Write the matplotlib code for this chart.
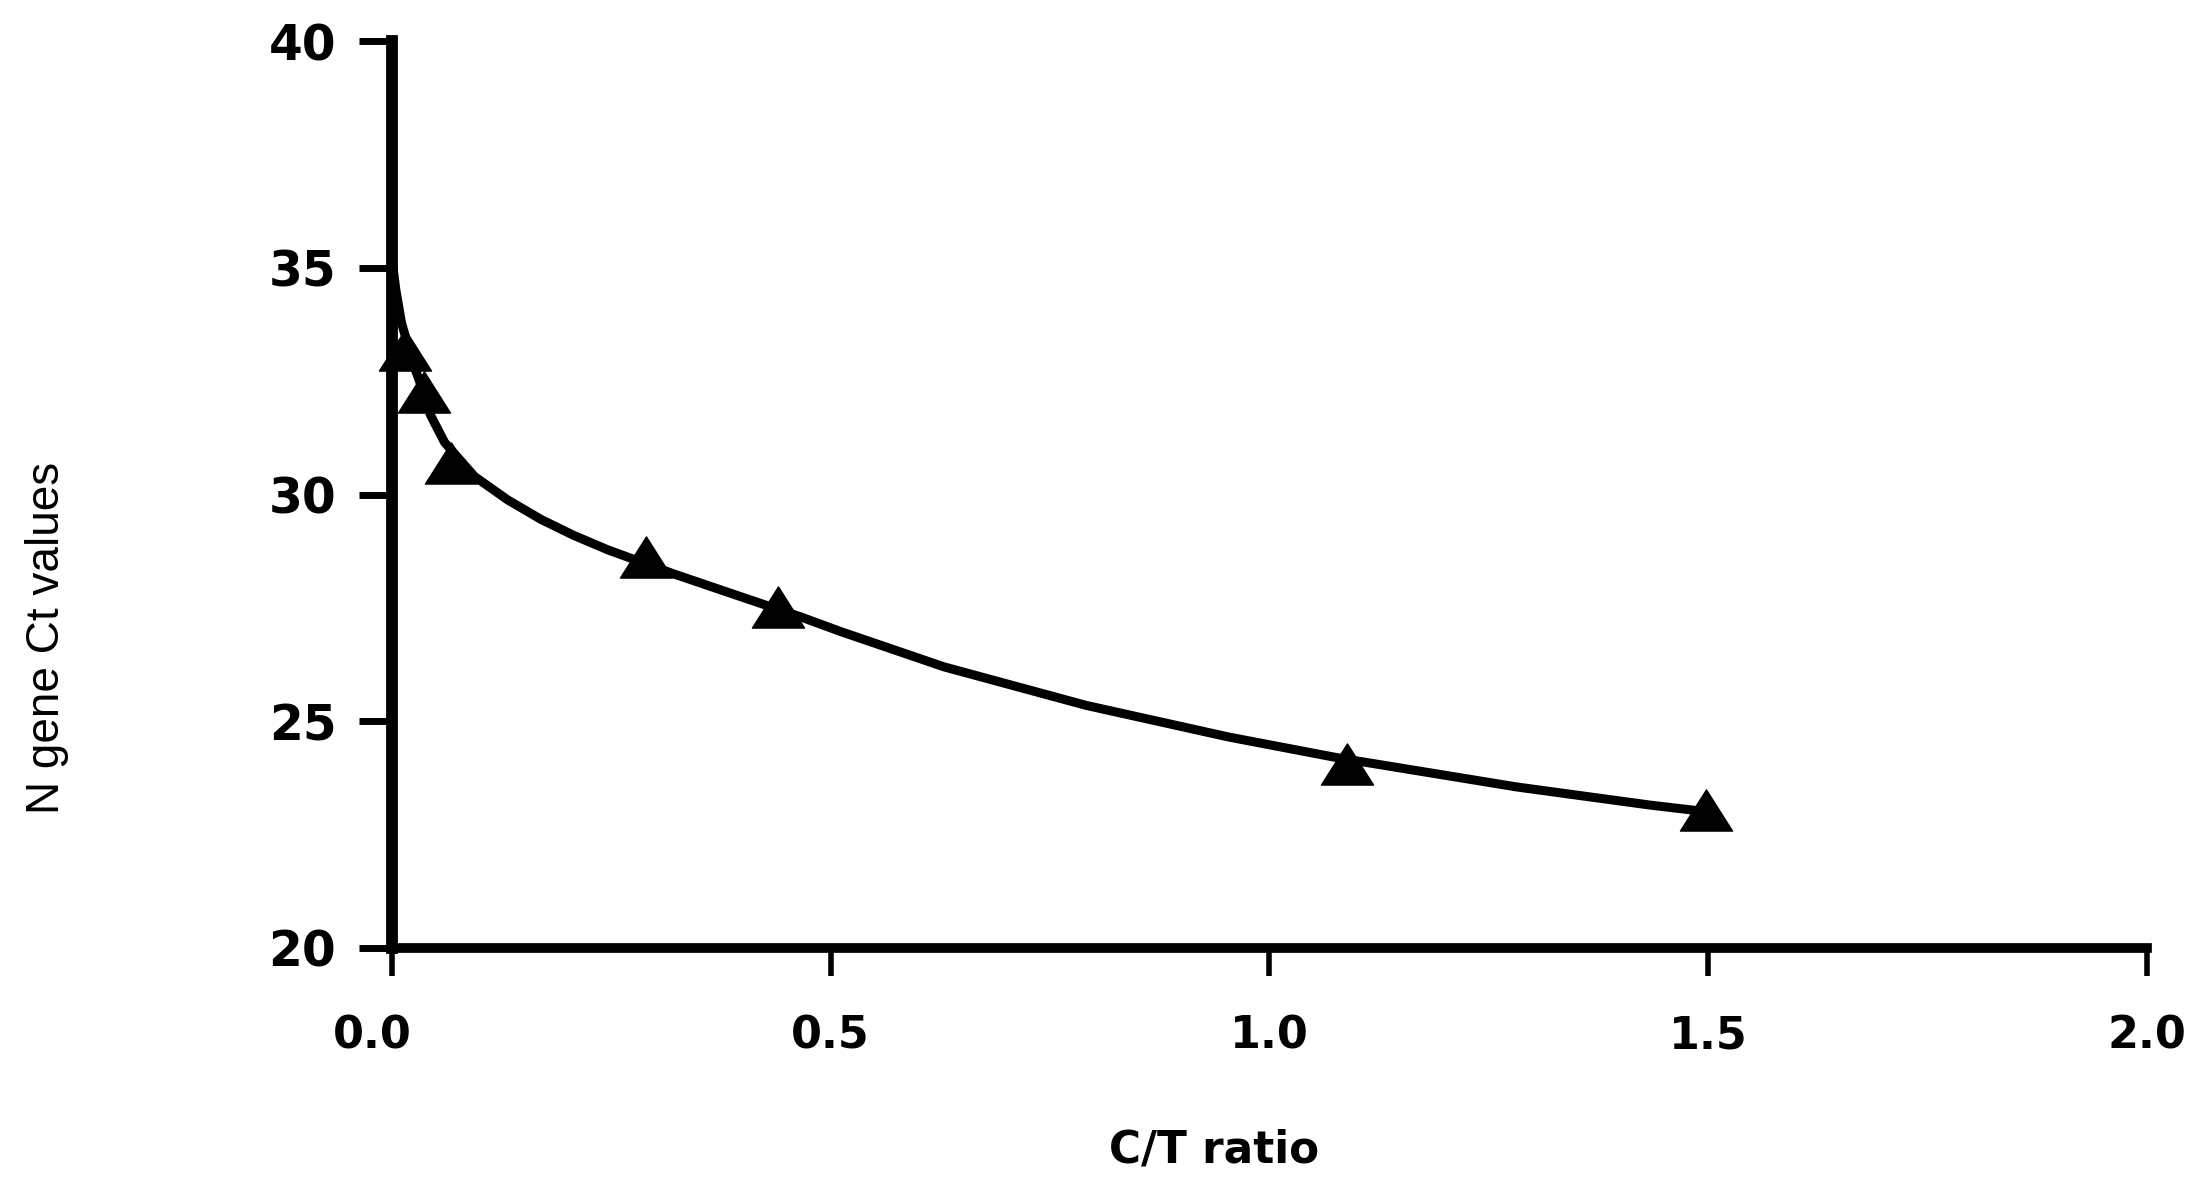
import numpy as np
import matplotlib
matplotlib.use("Agg")
import matplotlib.pyplot as plt
import matplotlib.transforms as mtransforms
from matplotlib.path import Path

# measured points (C/T ratio vs N gene Ct)
ct_ratio = [0.015, 0.036, 0.067, 0.29, 0.44, 1.088, 1.497]
ct_values = [33.19, 32.26, 30.70, 28.63, 27.53, 24.05, 23.05]

# fitted curve
curve_x = [0.0, 0.0045, 0.011, 0.024, 0.036, 0.044, 0.06, 0.094, 0.132, 0.17,
           0.207, 0.246, 0.321, 0.397, 0.466, 0.511, 0.629, 0.791, 0.954,
           1.076, 1.282, 1.434, 1.5]
curve_y = [35.2, 34.51, 33.78, 32.9, 32.25, 31.75, 31.15, 30.4, 29.88, 29.45,
           29.1, 28.78, 28.25, 27.75, 27.3, 26.98, 26.2, 25.35, 24.65,
           24.2, 23.55, 23.15, 23.0]

x_ticks = [0.0, 0.5, 1.0, 1.5, 2.0]
y_ticks = [20, 25, 30, 35, 40]

# flat triangle marker (wider than tall)
tri = Path([(-1, -0.79), (1, -0.79), (0, 0.79), (-1, -0.79)],
           [Path.MOVETO, Path.LINETO, Path.LINETO, Path.CLOSEPOLY])

fig = plt.figure(figsize=(22.08, 11.86), dpi=100)
ax = fig.add_axes([0.1775, 0.2007, 0.9724 - 0.1775, 0.9654 - 0.2007])

ax.plot(curve_x, curve_y, color='black', lw=6.5, solid_capstyle='butt',
        solid_joinstyle='round', zorder=3, clip_on=False)
ax.plot(ct_ratio, ct_values, linestyle='none', marker=tri, markersize=37.5,
        color='black', zorder=4, clip_on=False)

ax.set_xlim(0, 2.0)
ax.set_ylim(20, 40)
ax.set_xticks(x_ticks)
ax.set_yticks(y_ticks)
ax.set_xticklabels([f"{v:.1f}" for v in x_ticks])
ax.set_yticklabels([str(v) for v in y_ticks])

for side in ('top', 'right'):
    ax.spines[side].set_visible(False)
ax.spines['left'].set_linewidth(8.5)
ax.spines['bottom'].set_linewidth(7)

ax.tick_params(axis='y', direction='out', length=24, width=5, pad=16,
               labelsize=35)
ax.tick_params(axis='x', direction='out', length=20, width=4, pad=28,
               labelsize=32)
for lab in ax.get_xticklabels() + ax.get_yticklabels():
    lab.set_fontfamily('DejaVu Sans')
    lab.set_fontweight('bold')

# the "0.0" label sits a little left of its tick in the original
first = ax.get_xticklabels()[0]
first.set_transform(first.get_transform() +
                    mtransforms.ScaledTranslation(-0.2, 0, fig.dpi_scale_trans))

ax.set_xlabel('C/T ratio', fontfamily='DejaVu Sans', fontweight='bold',
              fontsize=31.5, va='baseline')
ax.xaxis.set_label_coords(0.4684, -0.237)
ax.set_ylabel('N gene Ct values', fontfamily='Liberation Sans', fontsize=33,
              va='center')
ax.yaxis.set_label_coords(-0.1966, 0.3423)

fig.savefig('out.png', dpi=100)
